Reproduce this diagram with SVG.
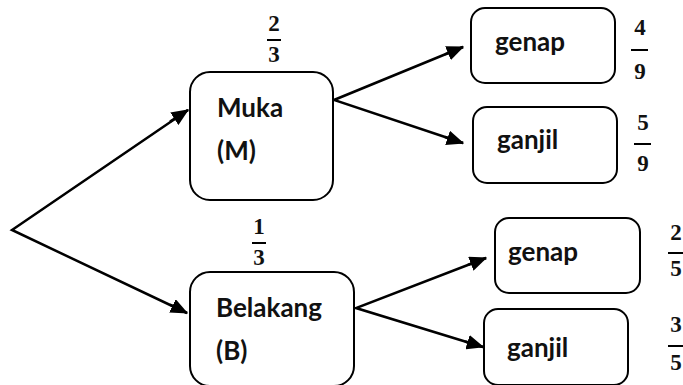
<svg xmlns="http://www.w3.org/2000/svg" width="683" height="385" viewBox="0 0 683 385">
  <style>
    .box { fill: #fff; stroke: #000; stroke-width: 2; }
    .lbl { font-family: Lato, "Liberation Sans", sans-serif; font-weight: bold; font-size: 26px; fill: #111; }
    .frac { font-family: "Liberation Serif", "DejaVu Serif", serif; font-weight: bold; font-size: 23px; fill: #111; text-anchor: middle; }
    .bar { stroke: #000; stroke-width: 2; }
    .branch { stroke: #000; stroke-width: 2.5; fill: none; }
    .edge { stroke: #000; stroke-width: 2.5; fill: none; marker-end: url(#arrow); }
  </style>
  <defs>
    <marker id="arrow" markerWidth="7" markerHeight="6" refX="6.5" refY="3" orient="auto" markerUnits="strokeWidth">
      <path d="M0,0 L7,3 L0,6 Z" fill="#000"/>
    </marker>
  </defs>
  <rect width="683" height="385" fill="#fff"/>

  <!-- connectors: each branch is a bent line, the arrowhead sits on its final segment -->
  <g id="connectors">
    <polyline class="branch" points="188,110 12,230 187,313"/>
    <line class="edge" x1="170" y1="121.6" x2="188" y2="110"/>
    <line class="edge" x1="170" y1="304.7" x2="187" y2="313"/>
    <polyline class="branch" points="463,47 334,100 463,143"/>
    <line class="edge" x1="445" y1="54.4" x2="463" y2="47"/>
    <line class="edge" x1="445" y1="137" x2="463" y2="143"/>
    <polyline class="branch" points="486,258 356,308 483,347"/>
    <line class="edge" x1="468" y1="264.9" x2="486" y2="258"/>
    <line class="edge" x1="465" y1="341.5" x2="483" y2="347"/>
  </g>

  <!-- Muka (M) -->
  <g id="node-muka">
    <rect class="box" x="190" y="72" width="143" height="128" rx="20"/>
    <text class="lbl" x="217" y="117">Muka</text>
    <text class="lbl" x="217" y="160">(M)</text>
    <text class="frac" x="274" y="31">2</text>
    <line class="bar" x1="267" y1="40" x2="281" y2="40"/>
    <text class="frac" x="274" y="62">3</text>
  </g>

  <!-- Belakang (B) -->
  <g id="node-belakang">
    <rect class="box" x="190" y="272" width="164" height="114" rx="20"/>
    <text class="lbl" x="216" y="317">Belakang</text>
    <text class="lbl" x="216" y="360">(B)</text>
    <text class="frac" x="259" y="234">1</text>
    <line class="bar" x1="252" y1="243" x2="266" y2="243"/>
    <text class="frac" x="259" y="265">3</text>
  </g>

  <!-- M: genap -->
  <g id="node-m-genap">
    <rect class="box" x="471" y="8" width="144" height="75" rx="14"/>
    <text class="lbl" x="495" y="51">genap</text>
    <text class="frac" x="640" y="35">4</text>
    <line class="bar" x1="631" y1="50" x2="648" y2="50"/>
    <text class="frac" x="640" y="79">9</text>
  </g>

  <!-- M: ganjil -->
  <g id="node-m-ganjil">
    <rect class="box" x="473" y="107" width="144" height="76" rx="14"/>
    <text class="lbl" x="497" y="149">ganjil</text>
    <text class="frac" x="643" y="130">5</text>
    <line class="bar" x1="634" y1="144" x2="651" y2="144"/>
    <text class="frac" x="643" y="171">9</text>
  </g>

  <!-- B: genap -->
  <g id="node-b-genap">
    <rect class="box" x="495" y="218" width="145" height="75" rx="14"/>
    <text class="lbl" x="508" y="261">genap</text>
    <text class="frac" x="676" y="240">2</text>
    <line class="bar" x1="668" y1="253" x2="684" y2="253"/>
    <text class="frac" x="676" y="276">5</text>
  </g>

  <!-- B: ganjil -->
  <g id="node-b-ganjil">
    <rect class="box" x="484" y="309" width="144" height="76" rx="14"/>
    <text class="lbl" x="507" y="357">ganjil</text>
    <text class="frac" x="676" y="332">3</text>
    <line class="bar" x1="668" y1="346" x2="684" y2="346"/>
    <text class="frac" x="676" y="370">5</text>
  </g>
</svg>
